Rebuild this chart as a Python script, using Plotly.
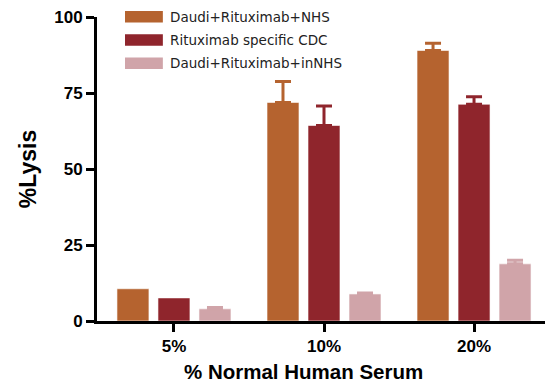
import plotly.graph_objects as go

categories = ["5%", "10%", "20%"]
series_names = ["Daudi+Rituximab+NHS", "Rituximab specific CDC", "Daudi+Rituximab+inNHS"]
series_colors = ["#B5632F", "#8F252C", "#D0A4A9"]
nhs_values = [10.6, 71.9, 89.0]
nhs_err = [None, 6.9, 2.4]      # no error bar at 5%
cdc_values = [7.6, 64.3, 71.3]
cdc_err = [None, 6.4, 2.5]
innhs_values = [4.0, 8.9, 18.8]
innhs_err = [0.4, 0.3, 1.2]
y_ticks = [0, 25, 50, 75, 100]
x_title = "% Normal Human Serum"
y_title = "%Lysis"

values = [nhs_values, cdc_values, innhs_values]
errors = [nhs_err, cdc_err, innhs_err]

BOLD_FONT = "Liberation Sans, Arial, sans-serif"
LEGEND_FONT = "DejaVu Sans, Verdana, sans-serif"

fig = go.Figure()
for k, (name, color, vals, errs) in enumerate(zip(series_names, series_colors, values, errors)):
    group = f"g{k}"
    fig.add_trace(go.Bar(
        x=categories, y=vals, name=name, offsetgroup=group,
        marker=dict(color=color, line=dict(color="white", width=0.6)),
        showlegend=False,
    ))
    # upper error bars only where a value exists, sharing the bar's slot
    err_y = [v if e is not None else None for v, e in zip(vals, errs)]
    err_arr = [e if e is not None else 0 for e in errs]
    fig.add_trace(go.Bar(
        x=categories, y=err_y, offsetgroup=group,
        marker=dict(color="rgba(0,0,0,0)", line=dict(width=0)),
        error_y=dict(type="data", array=err_arr, arrayminus=[0] * len(errs),
                     symmetric=False, color=color, thickness=3, width=8),
        showlegend=False, hoverinfo="skip",
    ))

# legend drawn as wide swatches with labels
for i, (name, color) in enumerate(zip(series_names, series_colors)):
    yc = 1.001 - i * 0.0765
    fig.add_shape(type="rect", xref="paper", yref="paper",
                  x0=0.0625, x1=0.147, y0=yc - 0.019, y1=yc + 0.019,
                  fillcolor=color, line=dict(width=0))
    fig.add_annotation(xref="paper", yref="paper", x=0.158, y=yc,
                       text=name, showarrow=False, xanchor="left", yanchor="middle",
                       font=dict(family=LEGEND_FONT, size=13.5, color="#222"))

# x-axis title, set slightly left of the plot centre
fig.add_annotation(xref="paper", yref="paper", x=0.46, y=-0.165,
                   text=x_title, showarrow=False, xanchor="center", yanchor="middle",
                   font=dict(family=BOLD_FONT, size=20.5, weight="bold", color="black"))

fig.update_layout(
    width=547, height=386,
    margin=dict(l=97, r=2, t=17, b=65),
    paper_bgcolor="white", plot_bgcolor="white",
    barmode="group", bargap=0.18, bargroupgap=0.22,
    font=dict(family=BOLD_FONT, color="black"),
    xaxis=dict(
        range=[-0.513, 2.473],
        showline=True, linecolor="black", linewidth=3,
        ticks="outside", ticklen=8, tickwidth=3, tickcolor="black",
        tickfont=dict(size=17, weight="bold"),
        showgrid=False, zeroline=False,
    ),
    yaxis=dict(
        range=[0, 100], tickvals=y_ticks,
        showline=True, linecolor="black", linewidth=3,
        ticks="outside", ticklen=8, tickwidth=3, tickcolor="black",
        tickfont=dict(size=17, weight="bold"),
        title=dict(text=y_title, font=dict(size=23, weight="bold"), standoff=12),
        showgrid=False, zeroline=False,
    ),
)

fig.write_html("out.html")
